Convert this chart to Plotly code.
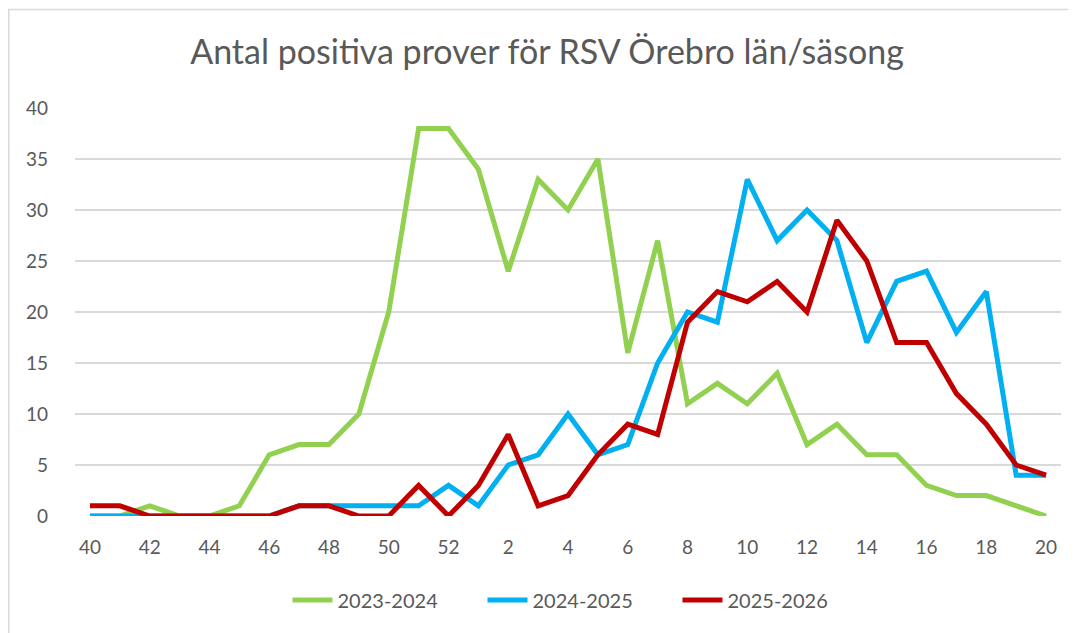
import plotly.graph_objects as go

weeks = [40, 41, 42, 43, 44, 45, 46, 47, 48, 49, 50, 51, 52,
         1, 2, 3, 4, 5, 6, 7, 8, 9, 10, 11, 12, 13, 14, 15, 16, 17, 18, 19, 20]
s2023_2024 = [0, 0, 1, 0, 0, 1, 6, 7, 7, 10, 20, 38, 38,
              34, 24, 33, 30, 35, 16, 27, 11, 13, 11, 14, 7, 9, 6, 6, 3, 2, 2, 1, 0]
s2024_2025 = [0, 0, 0, 0, 0, 0, 0, 1, 1, 1, 1, 1, 3,
              1, 5, 6, 10, 6, 7, 15, 20, 19, 33, 27, 30, 27, 17, 23, 24, 18, 22, 4, 4]
s2025_2026 = [1, 1, 0, 0, 0, 0, 0, 1, 1, 0, 0, 3, 0,
              3, 8, 1, 2, 6, 9, 8, 19, 22, 21, 23, 20, 29, 25, 17, 17, 12, 9, 5, 4]
series_names = ["2023-2024", "2024-2025", "2025-2026"]
colors = ["#92D050", "#00B0F0", "#C00000"]

idx = list(range(len(weeks)))
tick_idx = idx[::2]
tick_text = [str(weeks[i]) for i in tick_idx]

fig = go.Figure()
for name, vals, col in zip(series_names, [s2023_2024, s2024_2025, s2025_2026], colors):
    fig.add_trace(go.Scatter(x=idx, y=vals, mode="lines", name=name,
                             line=dict(color=col, width=5, shape="linear"),
                             hovertext=[str(w) for w in weeks]))

font_family = "Lato, 'Open Sans', sans-serif"
W, H = 1076, 633
# the page body has an 8px margin, so figure coords = page coords - 8
ml, mr, mt, mb = 67, 23, 100, 125

fig.update_layout(
    width=W, height=H,
    margin=dict(l=ml, r=mr, t=mt, b=mb),
    paper_bgcolor="white", plot_bgcolor="white",
    title=dict(text="Antal positiva prover för RSV Örebro län/säsong",
               x=(547 - 8) / W, xref="container", xanchor="center",
               y=1 - 44 / H, yref="container", yanchor="middle",
               font=dict(family=font_family, size=34, color="#595959")),
    font=dict(family=font_family, color="#595959", size=19),
    xaxis=dict(range=[-0.5, len(weeks) - 0.5], tickmode="array",
               tickvals=tick_idx, ticktext=tick_text, showgrid=False,
               zeroline=False, showline=False, ticks="",
               ticklabelstandoff=18,
               tickfont=dict(size=19, color="#595959")),
    yaxis=dict(range=[0, 40], tickvals=list(range(0, 41, 5)),
               showgrid=True, gridcolor="#D9D9D9", gridwidth=1.5,
               zeroline=False, showline=False, ticks="",
               ticklabelstandoff=26,
               tickfont=dict(size=19, color="#595959")),
    legend=dict(orientation="h", x=(580 - 8) / W, xref="container", xanchor="center",
                y=1 - 592 / H, yref="container", yanchor="middle",
                font=dict(size=20, color="#595959"),
                entrywidth=140, entrywidthmode="pixels",
                itemwidth=40, tracegroupgap=0),
    showlegend=True,
)

# chart-area border (light gray), as in the original
pw = W - ml - mr
ph = H - mt - mb
fig.add_shape(type="rect", xref="paper", yref="paper",
              x0=(0.75 - ml) / pw, x1=(W + 10 - ml) / pw,
              y0=-(mb + 10) / ph, y1=1 + (mt - 1.5) / ph,
              line=dict(color="#D9D9D9", width=1.5), fillcolor="rgba(0,0,0,0)",
              layer="below")

fig.write_html("out.html")
